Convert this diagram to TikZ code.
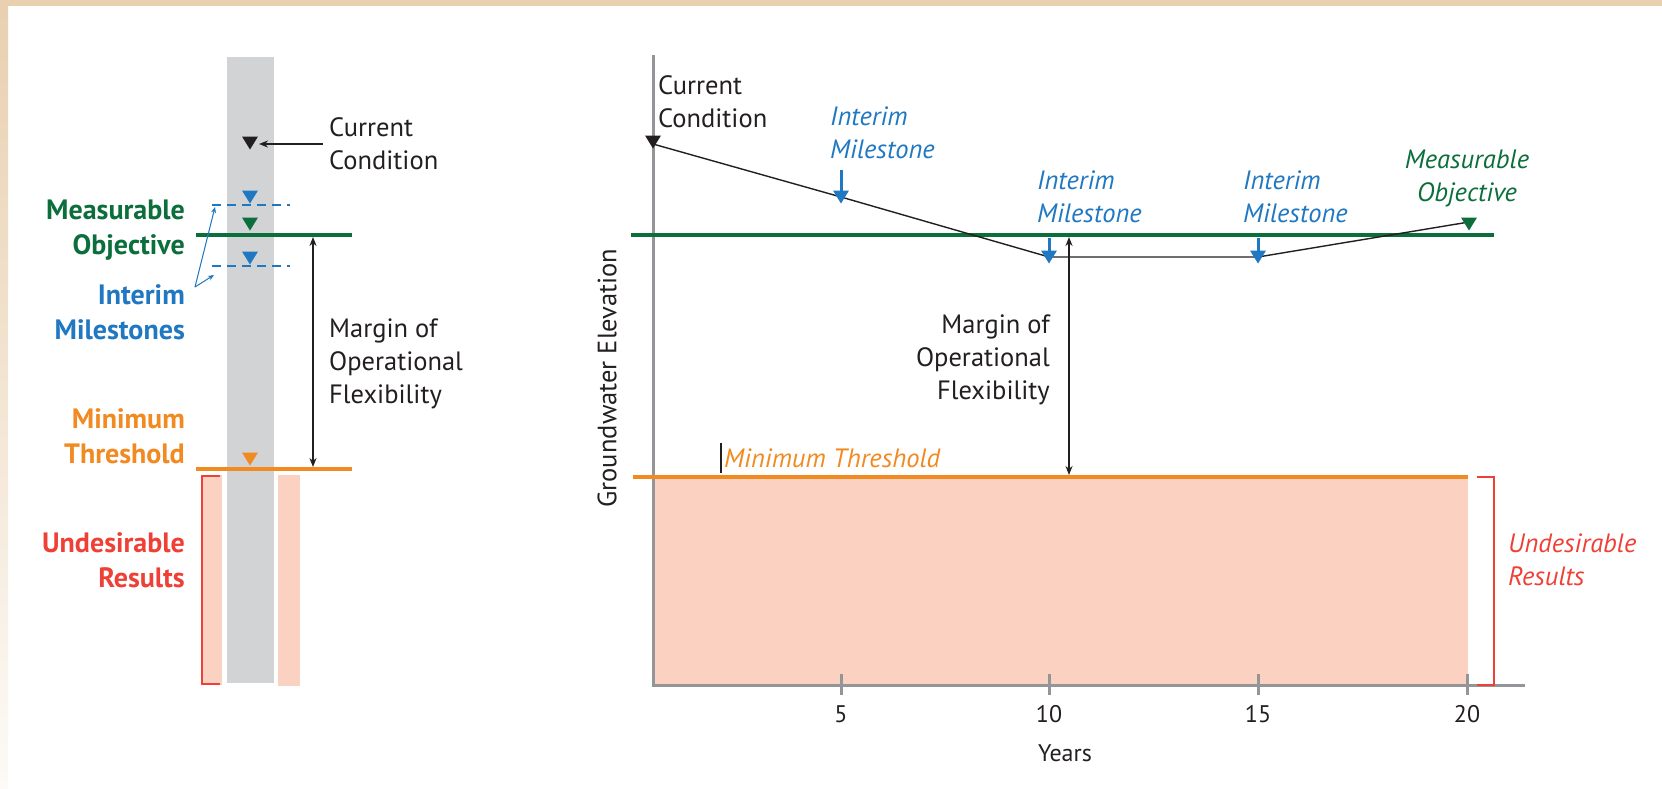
\documentclass[tikz,border=0pt]{standalone}
\usepackage{fontspec}
\setmainfont{PT Sans}
\usetikzlibrary{arrows.meta}
\definecolor{beige}{HTML}{E8D0B0}
\definecolor{barg}{HTML}{D1D3D4}
\definecolor{pinkf}{HTML}{FBD1C1}
\definecolor{gr}{HTML}{0B6E3B}
\definecolor{bl}{HTML}{1F78C1}
\definecolor{org}{HTML}{F18A21}
\definecolor{rd}{HTML}{EE4037}
\definecolor{axg}{HTML}{939598}
\definecolor{txt}{HTML}{231F20}
\tikzset{
  tri/.pic={\fill (-8,-6.5) -- (8,-6.5) -- (0,6.5) -- cycle;},
  lbl/.style={inner sep=0pt, font=\fontsize{26.5}{33}\selectfont, text=txt},
  blbl/.style={inner sep=0pt, font=\fontsize{28}{35}\selectfont\bfseries, align=right, anchor=east},
  ilbl/.style={inner sep=0pt, font=\fontsize{26.5}{33}\selectfont\itshape},
  ticklbl/.style={inner sep=0pt, font=\fontsize{24}{28}\selectfont, text=txt},
  dblarrow/.style={{Stealth[length=9,width=7]}-{Stealth[length=9,width=7]}, line width=2.2, txt},
}
\begin{document}
\begin{tikzpicture}[x=1pt,y=-1pt]
\useasboundingbox (0,0) rectangle (1662,788);
\fill[white] (0,0) rectangle (1662,788);
\fill[beige] (0,0) rectangle (1662,6);
\shade[top color=beige, bottom color=beige!10] (0,0) rectangle (8,788);

% ---------------- left column ----------------
\fill[barg] (227,57) rectangle (274,683);
\fill[pinkf] (203,475) rectangle (222,685);
\fill[pinkf] (278,475) rectangle (300,686);
\draw[rd, line width=2.5] (220,476) -- (202,476) -- (202,684) -- (220,684);

\draw[bl, line width=2, dash pattern=on 9pt off 6pt] (212,205) -- (290,205);
\draw[bl, line width=2, dash pattern=on 9pt off 6pt] (212,266) -- (290,266);

\coordinate (Lcc) at (250,143);
\pic[txt] at (Lcc) {tri};
\pic[bl] at (250,197) {tri};
\pic[gr] at (250,224) {tri};
\pic[bl] at (250,258) {tri};
\pic[org] at (250,459) {tri};

\draw[gr, line width=4] (196,235) -- (352,235);
\draw[org, line width=4] (196,469) -- (352,469);

\node[lbl, anchor=west, align=left] (Lcurr) at (329,144) {Current\\Condition};
\coordinate (Lcca) at (259,144);
\draw[-{Stealth[length=9,width=7]}, line width=2.4, txt] (Lcurr.west) ++(-6,0) coordinate (Lccs) -- (Lcca);

\coordinate (LmT) at (313,237);
\coordinate (LmB) at (313,467);
\draw[dblarrow] (LmT) -- (LmB);
\node[lbl, anchor=west, align=left] (Lmarg) at (329,364) {Margin of\\Operational\\Flexibility};

\node[blbl, text=gr] (Lmo) at (185,230) {Measurable\\Objective};
\node[blbl, text=bl] (Lim) at (185,312) {Interim\\Milestones};
\node[blbl, text=org] (Lmt) at (185,436) {Minimum\\Threshold};
\node[blbl, text=rd] (Lur) at (185,560) {Undesirable\\Results};

\coordinate (Lbs) at (195,287);
\coordinate (Lb1) at (215,207);
\coordinate (Lb2) at (214,275);
\draw[bl, line width=1, -{Stealth[length=6,width=5]}] (Lbs) -- (Lb1);
\draw[bl, line width=1, -{Stealth[length=6,width=5]}] (Lbs) -- (Lb2);

% ---------------- right chart ----------------
\fill[pinkf] (653,477) rectangle (1468,685);
\draw[axg, line width=3] (653,55) -- (653,686);
\draw[axg, line width=3] (652,685) -- (1525,685);
\foreach \x/\t in {841/5,1049/10,1258/15,1467/20}{
  \draw[axg, line width=3] (\x,674) -- (\x,695);
  \node[ticklbl] at (\x,714) {\t};
}
\node[ticklbl] (years) at (1065,753) {Years};
\node[lbl, rotate=90] (gwe) at (607,378) {Groundwater Elevation};

\draw[gr, line width=4.5] (631,235) -- (1494,235);
\draw[org, line width=4.5] (633,477) -- (1468,477);
\draw[rd, line width=2.5] (1477,477) -- (1494,477) -- (1494,685) -- (1477,685);

\coordinate (cc) at (653,144);
\coordinate (m5) at (841,197);
\coordinate (m10) at (1049,257);
\coordinate (m15) at (1258,257);
\coordinate (mo) at (1469,222);
\draw[txt, line width=1.4] (cc) -- (m5) -- (m10) -- (m15) -- (mo);
\pic[txt] at (653,142) {tri};
\pic[bl] at (m5) {tri};
\pic[bl] at (m10) {tri};
\pic[bl] at (m15) {tri};
\pic[gr] at (1469,224) {tri};

\draw[bl, line width=3] (841,170) -- (841,191);
\draw[bl, line width=3] (1049,238) -- (1049,251);
\draw[bl, line width=3] (1258,238) -- (1258,251);

\node[lbl, anchor=west, align=left] (Rcurr) at (658,102) {Current\\Condition};
\node[ilbl, text=bl, anchor=west, align=left] (Rim5) at (830,133) {Interim\\Milestone};
\node[ilbl, text=bl, anchor=west, align=left] (Rim10) at (1037,197) {Interim\\Milestone};
\node[ilbl, text=bl, anchor=west, align=left] (Rim15) at (1243,197) {Interim\\Milestone};
\node[ilbl, text=gr, align=center] (Rmo) at (1467,178) {Measurable\\Objective};

\coordinate (RmT) at (1069,237);
\coordinate (RmB) at (1069,475);
\draw[dblarrow] (RmT) -- (RmB);
\node[lbl, anchor=east, align=right] (Rmarg) at (1050,360) {Margin of\\Operational\\Flexibility};

\coordinate (mtT) at (721,443);
\coordinate (mtB) at (721,473);
\draw[txt, line width=1.5] (mtT) -- (mtB);
\node[ilbl, text=org, anchor=west] (Rmt) at (724,458) {Minimum Threshold};
\node[ilbl, text=rd, anchor=west, align=left] (Rur) at (1508,560) {Undesirable\\Results};
\end{tikzpicture}
\end{document}
